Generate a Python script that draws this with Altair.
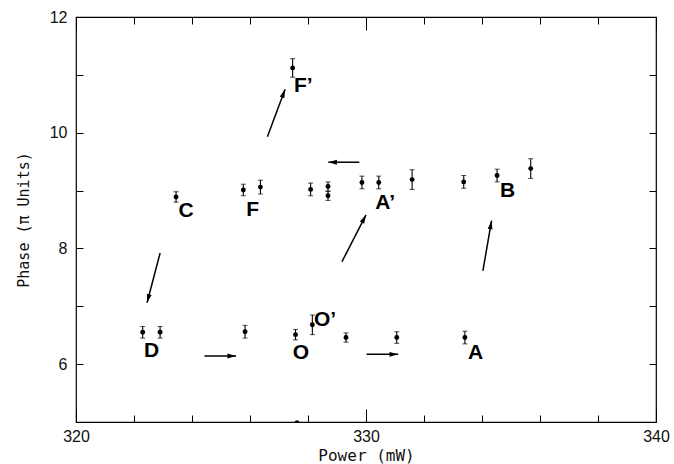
import math
import altair as alt
import pandas as pd

# ---- data ----
power = [323.45, 325.77, 326.36, 328.09, 328.69, 328.69, 329.86, 330.44, 331.59,
         333.37, 334.52, 335.68, 327.47,
         322.30, 322.90, 325.83, 327.57, 328.15, 329.31, 331.06, 333.41, 327.62]
phase = [8.89, 9.01, 9.06, 9.02, 9.07, 8.91, 9.14, 9.14, 9.19,
         9.15, 9.26, 9.38, 11.12,
         6.55, 6.55, 6.56, 6.51, 6.68, 6.46, 6.46, 6.46, 4.99]
err = [0.09, 0.10, 0.12, 0.11, 0.08, 0.08, 0.11, 0.11, 0.17,
       0.11, 0.11, 0.17, 0.16,
       0.10, 0.10, 0.11, 0.09, 0.17, 0.08, 0.10, 0.11, 0.0]

label_text = ["C", "F", "A\u2019", "B", "F\u2019", "D", "O", "O\u2019", "A"]
label_x = [323.80, 326.09, 330.66, 334.88, 327.84, 322.61, 327.76, 328.59, 333.78]
label_y = [8.64, 8.66, 8.79, 8.99, 10.81, 6.23, 6.20, 6.76, 6.19]

arrow_x1 = [326.60, 329.77, 329.17, 334.03, 322.90, 324.43, 330.02]
arrow_y1 = [9.93, 9.49, 7.77, 7.61, 7.92, 6.14, 6.17]
arrow_x2 = [327.21, 328.70, 330.00, 334.33, 322.45, 325.52, 331.11]
arrow_y2 = [10.75, 9.49, 8.58, 8.48, 7.06, 6.14, 6.17]

x_ticks = list(range(320, 341))            # every 1 mW, labelled every 5
y_ticks = [5 + 0.5 * i for i in range(15)]  # every 0.5, labelled 6, 8, 10, 12

W, H = 580, 405
XD, YD = [320, 340], [5, 12]
pxx = W / (XD[1] - XD[0])
pxy = H / (YD[1] - YD[0])
MINOR, MAJOR = 7, 13  # inward tick lengths in pixels

rows = []
for px_, ph_, e_ in zip(power, phase, err):
    rows.append({"kind": "dot", "x": px_, "y": ph_, "x2": px_, "y2": ph_})
    if e_ > 0:
        rows.append({"kind": "bar", "x": px_, "y": ph_ - e_, "x2": px_, "y2": ph_ + e_})
for a, b, c, d in zip(arrow_x1, arrow_x2, arrow_y1, arrow_y2):
    rows.append({"kind": "arrow", "x": a, "y": c, "x2": b, "y2": d,
                 "ang": (math.degrees(math.atan2((b - a) * pxx, (d - c) * pxy)) + 360) % 360})
df = pd.DataFrame(rows)

labels = pd.DataFrame({"t": label_text, "x": label_x, "y": label_y})

FONT = "Liberation Sans"
MONO = "DejaVu Sans Mono"
xs = alt.Scale(domain=XD, nice=False, zero=False)
ys = alt.Scale(domain=YD, nice=False, zero=False)

# inward ticks on both opposite edges drawn as dashed grid lines (dash at each end)
x_grid_dash = {"condition": {"test": "datum.value % 5 === 0", "value": [MAJOR, H - 2 * MAJOR]},
               "value": [MINOR, H - 2 * MINOR]}
y_grid_dash = [MINOR, W - 2 * MINOR]

main_x = alt.Axis(orient="bottom", values=x_ticks, ticks=False, domain=False,
                  grid=True, gridColor="black", gridOpacity=1, gridWidth=1,
                  gridDash=x_grid_dash,
                  labelExpr="datum.value % 5 === 0 ? datum.label : ''",
                  labelFlush=False, labelOverlap=False, format="d",
                  title="Power (mW)", labelFont=FONT, labelFontSize=16, labelColor="#111",
                  labelPadding=6, titleFont=MONO, titleFontSize=16, titleFontWeight="normal",
                  titleColor="#111", titlePadding=3)
main_y = alt.Axis(orient="left", values=y_ticks, ticks=False, domain=False,
                  grid=True, gridColor="black", gridOpacity=1, gridWidth=1,
                  gridDash=y_grid_dash,
                  labelExpr="(datum.value % 2 === 0 && datum.value >= 6) ? datum.label : ''",
                  labelFlush=False, labelOverlap=False, format="d",
                  title="Phase (\u03c0 Units)", labelFont=FONT, labelFontSize=16,
                  labelColor="#111", labelPadding=9, titleFont=MONO, titleFontSize=15,
                  titleFontWeight="normal", titleColor="#111", titlePadding=18)

base = alt.Chart(df)

segs = base.transform_filter(alt.datum.kind == "bar").mark_rule(
    color="black", strokeWidth=1.1).encode(
    x=alt.X("x:Q", scale=xs, axis=main_x),
    y=alt.Y("y:Q", scale=ys, axis=main_y),
    x2="x2:Q",
    y2="y2:Q",
)
caps_lo = base.transform_filter(alt.datum.kind == "bar").mark_tick(
    color="black", orient="horizontal", size=5, thickness=1).encode(
    x=alt.X("x:Q", scale=xs), y=alt.Y("y:Q", scale=ys))
caps_hi = base.transform_filter(alt.datum.kind == "bar").mark_tick(
    color="black", orient="horizontal", size=5, thickness=1).encode(
    x=alt.X("x:Q", scale=xs), y=alt.Y("y2:Q", scale=ys))
dots = base.transform_filter(alt.datum.kind == "dot").mark_circle(
    color="black", size=24, opacity=1, clip=True).encode(
    x=alt.X("x:Q", scale=xs), y=alt.Y("y:Q", scale=ys))
shaft = base.transform_filter(alt.datum.kind == "arrow").mark_rule(
    color="black", strokeWidth=1.5).encode(
    x=alt.X("x:Q", scale=xs), y=alt.Y("y:Q", scale=ys), x2="x2:Q", y2="y2:Q")
head = base.transform_filter(alt.datum.kind == "arrow").mark_point(
    shape="M0,0L0.28,1L-0.28,1Z", filled=True, color="black", size=300, opacity=1).encode(
    x=alt.X("x2:Q", scale=xs), y=alt.Y("y2:Q", scale=ys),
    angle=alt.Angle("ang:Q", scale=None))
text = alt.Chart(labels).mark_text(font=FONT, fontSize=21, fontWeight="bold", color="black",
                                   align="center", baseline="middle").encode(
    x=alt.X("x:Q", scale=xs), y=alt.Y("y:Q", scale=ys), text="t:N")

chart = (
    alt.layer(segs, caps_lo, caps_hi, dots, shaft, head, text)
    .properties(width=W, height=H, autosize=alt.AutoSizeParams(type="none"),
                padding={"left": 76, "top": 17, "right": 18, "bottom": 42},
                background="white")
    .configure_view(stroke="black", strokeWidth=1.2)
)

chart.save("out.html", embed_options={"renderer": "svg", "actions": False})
